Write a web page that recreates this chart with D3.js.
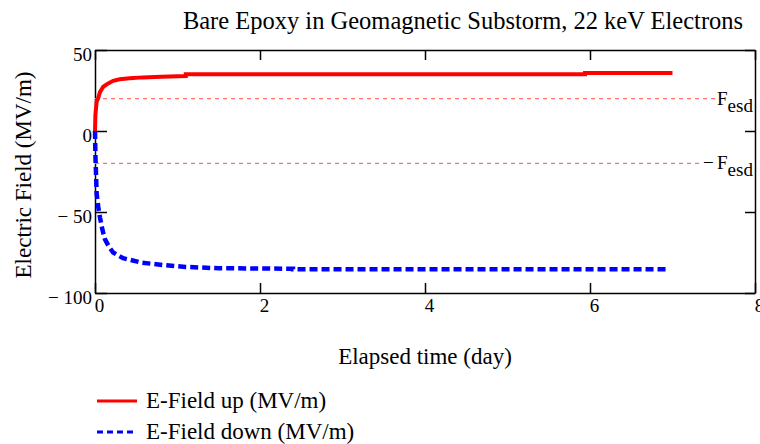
<!doctype html>
<html lang="en">
<head>
  <meta charset="UTF-8">
  <script src="https://cdn.jsdelivr.net/npm/d3@7"></script>
  <title>Bare Epoxy</title>
  <style>
    body{ margin:0; background:#fff; }
    svg text{ font-family:"Liberation Serif","Times New Roman","DejaVu Serif",serif; fill:#000; }
    .axis path, .axis line{ stroke:#000; stroke-width:1.5; }
  </style>
</head>
<body>
  <div class="chart"></div>
  <script>
    // red curve (E-Field up)
    const upDays  = [0, 0.005, 0.02, 0.04, 0.06, 0.1, 0.16, 0.22, 0.3, 0.42, 0.58, 0.8, 1.1, 1.1, 5.94, 5.94, 7.0];
    const upField = [0, 10, 18, 20.5, 24, 27.3, 29.4, 31, 31.9, 32.5, 33.1, 33.5, 33.9, 35, 35, 35.8, 35.8];
    // blue curve (E-Field down)
    const downDays  = [0, 0.005, 0.02, 0.04, 0.06, 0.09, 0.12, 0.17, 0.22, 0.34, 0.56, 0.83, 1.1, 1.5, 2.4, 2.4, 6.95];
    const downField = [0, -15, -38.8, -47, -53.3, -61, -66.7, -71.5, -75, -78.5, -81.2, -82.8, -83.9, -84.7, -85, -85.4, -85.4];
    const fesd = 20;
    const xTicks = [0, 2, 4, 6, 8];
    const yTicks = [-100, -50, 0, 50];

    const W = 760, H = 444;
    const plot = {left: 95, right: 755, top: 50, bottom: 293};
    const serif = '"Liberation Serif","Times New Roman","DejaVu Serif",serif';

    const svg = d3.select('.chart').append('svg').attr('width', W).attr('height', H);

    const x = d3.scaleLinear().domain([0, 8]).range([plot.left, plot.right]);
    const y = d3.scaleLinear().domain([-100, 50]).range([plot.bottom, plot.top]);
    const fmt = d => d < 0 ? '\u2212 ' + (-d) : String(d);

    // axes, ticks point inward on every side
    const gx = svg.append('g').attr('class', 'axis').attr('transform', `translate(0,${plot.bottom})`)
      .call(d3.axisBottom(x).tickValues(xTicks).tickSizeInner(-10).tickSizeOuter(0).tickPadding(6).tickFormat(d3.format('d')));
    gx.attr('font-family', serif);
    gx.selectAll('text').attr('font-size', 19).attr('dx', 4);
    svg.append('g').attr('class', 'axis').attr('transform', `translate(0,${plot.top})`)
      .call(d3.axisTop(x).tickValues(xTicks).tickSizeInner(-10).tickSizeOuter(0).tickFormat(''));
    const gy = svg.append('g').attr('class', 'axis').attr('transform', `translate(${plot.left},0)`)
      .call(d3.axisLeft(y).tickValues(yTicks).tickSizeInner(-12).tickSizeOuter(0).tickPadding(3).tickFormat(fmt));
    gy.attr('font-family', serif);
    gy.selectAll('text').attr('font-size', 19).attr('dy', '0.55em');
    svg.append('g').attr('class', 'axis').attr('transform', `translate(${plot.right},0)`)
      .call(d3.axisRight(y).tickValues(yTicks).tickSizeInner(-10).tickSizeOuter(0).tickFormat(''));

    // Fesd marker lines
    const marks = [{v: fesd, neg: false, end: 716}, {v: -fesd, neg: true, end: 701}];
    marks.forEach(m => {
      svg.append('line').attr('x1', plot.left).attr('x2', m.end)
        .attr('y1', y(m.v)).attr('y2', y(m.v))
        .attr('stroke', '#ff6f6f').attr('stroke-width', 1.2).attr('stroke-dasharray', '4,4');
      const t = svg.append('text').attr('font-family', serif).attr('font-size', 19).attr('x', 717).attr('y', y(m.v) + 6);
      if (m.neg) t.append('tspan').attr('x', 703).text('\u2212');
      t.append('tspan').attr('x', 717).text('F');
      t.append('tspan').attr('dy', 7).text('esd');
    });

    // curves
    const line = d3.line().x(d => x(d[0])).y(d => y(d[1]));
    svg.append('path').attr('d', line(d3.zip(upDays, upField)))
      .attr('fill', 'none').attr('stroke', '#ff0000').attr('stroke-width', 4);
    svg.append('path').attr('d', line(d3.zip(downDays, downField)))
      .attr('fill', 'none').attr('stroke', '#0000ff').attr('stroke-width', 4.5).attr('stroke-dasharray', '8,4');

    // titles
    svg.append('text').attr('font-family', serif).attr('x', 463).attr('y', 29).attr('text-anchor', 'middle').attr('font-size', 24.5)
      .text('Bare Epoxy in Geomagnetic Substorm, 22 keV Electrons');
    svg.append('text').attr('font-family', serif).attr('x', 425).attr('y', 364).attr('text-anchor', 'middle').attr('font-size', 23)
      .text('Elapsed time (day)');
    svg.append('text').attr('font-family', serif).attr('transform', 'translate(31,175) rotate(-90)').attr('text-anchor', 'middle').attr('font-size', 23)
      .text('Electric Field (MV/m)');

    // legend
    const legend = [
      {label: 'E-Field up (MV/m)', color: '#ff0000', dash: null, yy: 401},
      {label: 'E-Field down (MV/m)', color: '#0000ff', dash: '6,4', yy: 432}
    ];
    legend.forEach(l => {
      svg.append('line').attr('x1', 97).attr('x2', 137).attr('y1', l.yy).attr('y2', l.yy)
        .attr('stroke', l.color).attr('stroke-width', 3).attr('stroke-dasharray', l.dash);
      svg.append('text').attr('font-family', serif).attr('x', 146).attr('y', l.yy + 7).attr('font-size', 23).text(l.label);
    });
  </script>
</body>
</html>
